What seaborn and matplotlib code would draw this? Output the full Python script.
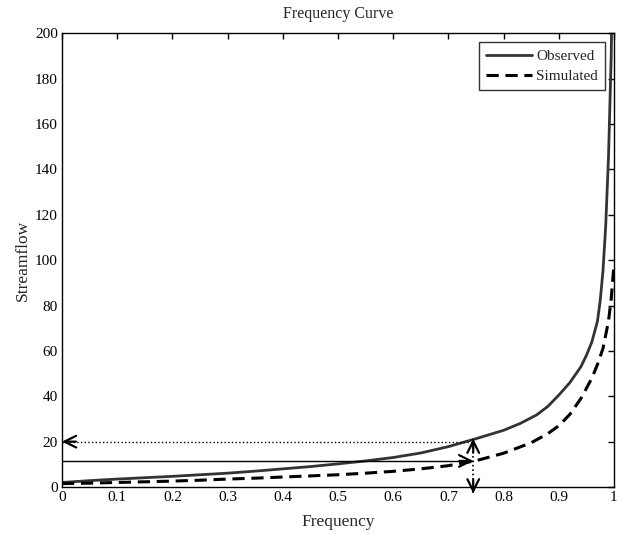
import numpy as np
import pandas as pd
import seaborn as sns
import matplotlib
matplotlib.use('Agg')
import matplotlib.pyplot as plt

# values
freq_obs = [0, 0.05, 0.1, 0.15, 0.2, 0.25, 0.3, 0.35, 0.4, 0.45, 0.5, 0.55, 0.6,
            0.65, 0.7, 0.75, 0.8, 0.83, 0.86, 0.88, 0.9, 0.92, 0.94, 0.95, 0.96,
            0.97, 0.975, 0.98, 0.985, 0.99, 0.995, 0.998]
observed = [2.0, 2.8, 3.5, 4.1, 4.7, 5.4, 6.1, 7.0, 8.0, 9.0, 10.2, 11.5, 13.0,
            15.0, 17.8, 21.3, 25.0, 28.0, 31.8, 35.5, 40.5, 46.0, 53.0, 58.0, 64.0,
            73, 82, 95, 115, 145, 190, 240]

freq_sim = [0, 0.05, 0.1, 0.15, 0.2, 0.25, 0.3, 0.35, 0.4, 0.45, 0.5, 0.55, 0.6,
            0.65, 0.7, 0.75, 0.8, 0.85, 0.88, 0.9, 0.92, 0.94, 0.96, 0.97, 0.98,
            0.99, 0.995, 1.0]
simulated = [1.5, 1.7, 2.0, 2.3, 2.6, 3.0, 3.5, 3.9, 4.4, 4.9, 5.4, 6.1, 6.9,
             8.0, 9.4, 11.6, 14.9, 19.5, 23.5, 27, 32, 39, 48, 54, 61,
             73, 83, 98]

# annotation levels
mark_freq = 0.745
obs_level = 21.3
sim_level = 11.5
dotted_level = 20.0
arrow_bottom = -2.8

xticks = [0, 0.1, 0.2, 0.3, 0.4, 0.5, 0.6, 0.7, 0.8, 0.9, 1]
xticklabels = ['0', '0.1', '0.2', '0.3', '0.4', '0.5', '0.6', '0.7', '0.8', '0.9', '1']
yticks = list(range(0, 201, 20))

sns.set_style('white')
plt.rcParams['font.family'] = ['Liberation Serif', 'DejaVu Serif']

fig = plt.figure(figsize=(6.17, 5.34), dpi=100)
ax = fig.add_axes([0.1005, 0.088, 0.8946, 0.8496])

obs_df = pd.DataFrame({'Frequency': freq_obs, 'Streamflow': observed})
sim_df = pd.DataFrame({'Frequency': freq_sim, 'Streamflow': simulated})

sns.lineplot(data=obs_df, x='Frequency', y='Streamflow', ax=ax, color='#333333',
             linewidth=2.0, label='Observed')
sns.lineplot(data=sim_df, x='Frequency', y='Streamflow', ax=ax, color='black',
             linewidth=2.2, linestyle=(0, (4, 2.2)), label='Simulated')

# guide lines
ax.plot([0, mark_freq], [dotted_level, dotted_level], ls=':', lw=1.0, color='black')
ax.plot([0, mark_freq], [sim_level, sim_level], ls='-', lw=1.0, color='black')
ax.plot([mark_freq, mark_freq], [arrow_bottom, obs_level], ls=':', lw=1.2,
        color='black', clip_on=False)

# solid arrow heads
head = dict(arrowstyle='->,head_length=0.6,head_width=0.3', color='black',
            lw=1.6, mutation_scale=14, shrinkA=0, shrinkB=0)
for tip, off in [((0, dotted_level), (10, 0)),
                 ((mark_freq, sim_level), (-10, 0)),
                 ((mark_freq, obs_level), (0, -10)),
                 ((mark_freq, arrow_bottom), (0, 10))]:
    ax.annotate('', xy=tip, xytext=off, textcoords='offset points',
                arrowprops=head, annotation_clip=False)

ax.set_xlim(0, 1)
ax.set_ylim(0, 200)
ax.set_xticks(xticks)
ax.set_xticklabels(xticklabels)
ax.set_yticks(yticks)
ax.tick_params(direction='in', length=4, width=1, top=True, right=True,
               labelsize=11, colors='black', pad=3)
for spine in ax.spines.values():
    spine.set_visible(True)
    spine.set_color('black')
    spine.set_linewidth(1.0)

ax.set_title('Frequency Curve', fontsize=11.5, pad=11)
ax.set_xlabel('Frequency', fontsize=12.5, labelpad=7)
ax.set_ylabel('Streamflow', fontsize=12.5, labelpad=3)

leg = ax.legend(loc='upper right', fontsize=11, frameon=True, fancybox=False,
                edgecolor='black', handlelength=3.0, borderaxespad=0.6,
                handletextpad=0.3, borderpad=0.45, labelspacing=0.4)
leg.get_frame().set_linewidth(1.0)

fig.savefig('out.png', dpi=100)
